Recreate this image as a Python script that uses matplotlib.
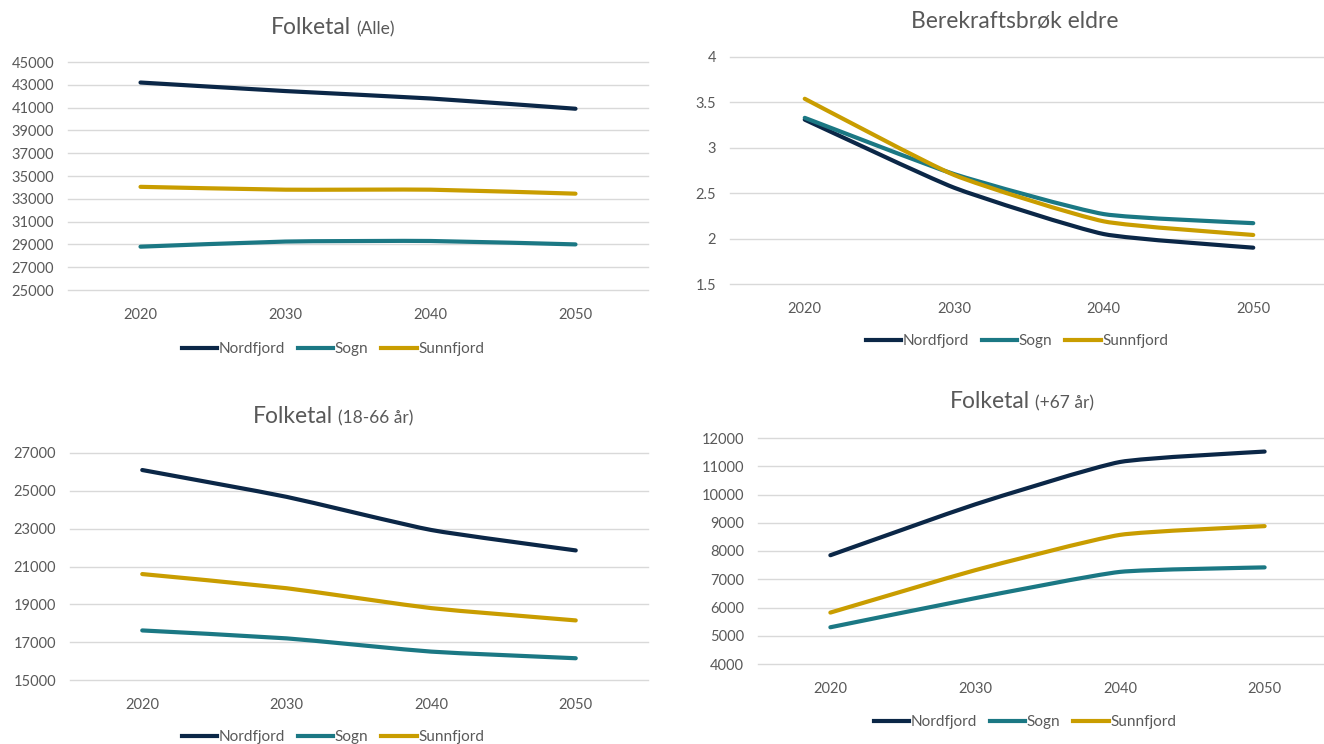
import matplotlib
matplotlib.use("Agg")
import matplotlib.pyplot as plt
from matplotlib.path import Path
from matplotlib.patches import PathPatch
from matplotlib.lines import Line2D
import numpy as np

plt.rcParams['font.family'] = ['Lato', 'DejaVu Sans']

years = ['2020', '2030', '2040', '2050']
series_names = ['Nordfjord', 'Sogn', 'Sunnfjord']
colors = ['#0b2747', '#1b7884', '#c99d00']

# Folketal (Alle)
alle_nordfjord = [43200, 42450, 41800, 40900]
alle_sogn = [28800, 29250, 29300, 29000]
alle_sunnfjord = [34050, 33800, 33800, 33450]

# Berekraftsbrøk eldre
bk_nordfjord = [3.31, 2.56, 2.05, 1.90]
bk_sogn = [3.33, 2.71, 2.27, 2.17]
bk_sunnfjord = [3.54, 2.70, 2.19, 2.04]

# Folketal (18-66 år)
arb_nordfjord = [26100, 24680, 22930, 21850]
arb_sogn = [17620, 17200, 16500, 16150]
arb_sunnfjord = [20600, 19850, 18800, 18150]

# Folketal (+67 år)
eld_nordfjord = [7850, 9650, 11150, 11520]
eld_sogn = [5300, 6330, 7260, 7420]
eld_sunnfjord = [5820, 7320, 8570, 8880]

TEXT = '#595959'
GRID = '#d9d9d9'
W, H = 1324, 744

fig = plt.figure(figsize=(W / 100, H / 100), dpi=100)


def frac_box(x0, x1, ytop, ybot):
    return [x0 / W, 1 - ybot / H, (x1 - x0) / W, (ybot - ytop) / H]


def smooth_path(xs, ys, k=12.0):
    pts = np.column_stack([xs, ys]).astype(float)
    n = len(pts)
    verts = [pts[0]]
    codes = [Path.MOVETO]
    for i in range(n - 1):
        p0 = pts[max(i - 1, 0)]
        p1 = pts[i]
        p2 = pts[i + 1]
        p3 = pts[min(i + 2, n - 1)]
        c1 = p1 + (p2 - p0) / k
        c2 = p2 - (p3 - p1) / k
        verts += [c1, c2, p2]
        codes += [Path.CURVE4] * 3
    return Path(verts, codes)


def draw_chart(box, data, ylim, ystep, yfmt, title_main, title_sub, title_xy, legend_xy):
    ax = fig.add_axes(box)
    x = np.arange(len(years))
    for vals, c in zip(data, colors):
        patch = PathPatch(smooth_path(x, vals), fill=False, edgecolor=c, lw=3.0,
                          capstyle='round', joinstyle='round', zorder=3)
        ax.add_patch(patch)
    ax.set_xlim(-0.5, len(years) - 0.5)
    ax.set_ylim(*ylim)
    ax.set_xticks(x)
    ax.set_xticklabels(years)
    ticks = np.arange(ylim[0], ylim[1] + ystep / 2, ystep)
    ax.set_yticks(ticks)
    ax.set_yticklabels([yfmt(t) for t in ticks])
    for s in ax.spines.values():
        s.set_visible(False)
    ax.tick_params(axis='both', length=0, colors=TEXT, labelsize=10.5)
    ax.tick_params(axis='x', pad=13)
    ax.tick_params(axis='y', pad=10)
    ax.yaxis.grid(True, color=GRID, lw=1.0)
    ax.set_axisbelow(True)
    for gl in ax.get_ygridlines():
        gl.set_clip_on(False)
    ax.patch.set_visible(False)

    handles = [Line2D([], [], color=c, lw=3.0) for c in colors]
    fig.legend(handles, series_names, loc='center',
               bbox_to_anchor=(legend_xy[0] / W, 1 - legend_xy[1] / H),
               ncol=3, frameon=False, handlelength=2.3, handletextpad=0.12,
               columnspacing=0.85, fontsize=11, labelcolor=TEXT)

    cx, cy = title_xy[0] / W, 1 - title_xy[1] / H
    t1 = fig.text(cx, cy, title_main, fontsize=16.5, color=TEXT, ha='left', va='baseline')
    t2 = None
    if title_sub:
        t2 = fig.text(cx, cy, title_sub, fontsize=12.5, color=TEXT, ha='left', va='baseline')
    return ax, t1, t2


titles = []
titles.append(draw_chart(frac_box(68, 648, 62, 290),
                         [alle_nordfjord, alle_sogn, alle_sunnfjord],
                         (25000, 45000), 2000, lambda v: f'{int(v)}',
                         'Folketal', '(Alle)', (333, 34), (333, 349)))
titles.append(draw_chart(frac_box(730, 1328, 57, 284),
                         [bk_nordfjord, bk_sogn, bk_sunnfjord],
                         (1.5, 4.0), 0.5, lambda v: f'{v:g}',
                         'Berekraftsbrøk eldre', None, (1015, 27), (1017, 341)))
titles.append(draw_chart(frac_box(70, 648, 453, 680),
                         [arb_nordfjord, arb_sogn, arb_sunnfjord],
                         (15000, 27000), 2000, lambda v: f'{int(v)}',
                         'Folketal', '(18-66 år)', (333, 423), (333, 737)))
titles.append(draw_chart(frac_box(758, 1337, 438, 664),
                         [eld_nordfjord, eld_sogn, eld_sunnfjord],
                         (4000, 12000), 1000, lambda v: f'{int(v)}',
                         'Folketal', '(+67 år)', (1022, 408), (1025, 722)))

fig.canvas.draw()
r = fig.canvas.get_renderer()
for ax, t1, t2 in titles:
    cx, cy = t1.get_position()
    w1 = t1.get_window_extent(r).width / W
    gap = 5 / W
    w2 = t2.get_window_extent(r).width / W if t2 is not None else 0
    total = w1 + (gap + w2 if t2 is not None else 0)
    start = cx - total / 2
    t1.set_position((start, cy))
    if t2 is not None:
        t2.set_position((start + w1 + gap, cy))

fig.savefig('out.png', dpi=100)
